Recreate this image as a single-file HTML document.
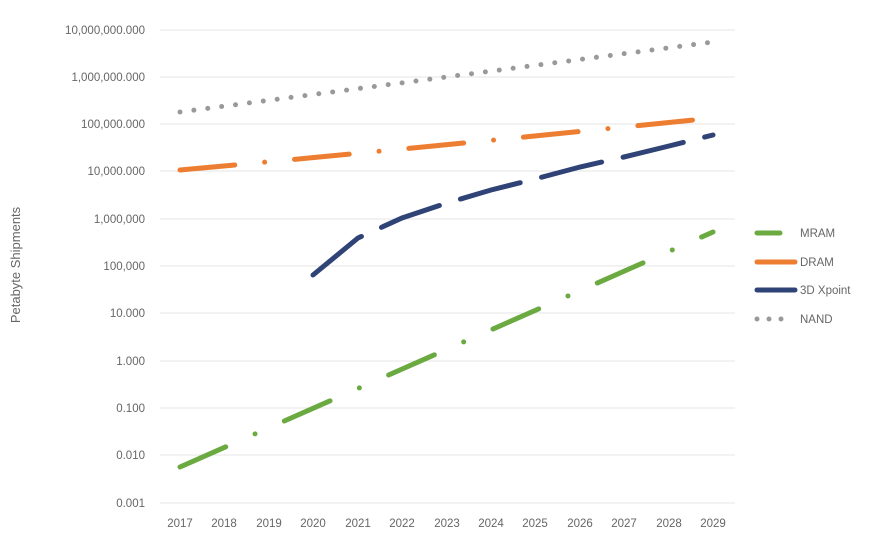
<!DOCTYPE html><html><head><style>body{margin:0;background:#fff}</style></head><body>
<svg width="874" height="537" xmlns="http://www.w3.org/2000/svg" font-family="Liberation Sans, sans-serif">
<rect width="874" height="537" fill="#fff"/>
<g stroke="#e4e4e4" stroke-width="1">
<line x1="160" x2="735" y1="30" y2="30"/><line x1="160" x2="735" y1="77" y2="77"/><line x1="160" x2="735" y1="124" y2="124"/><line x1="160" x2="735" y1="171" y2="171"/><line x1="160" x2="735" y1="219" y2="219"/><line x1="160" x2="735" y1="266" y2="266"/><line x1="160" x2="735" y1="313" y2="313"/><line x1="160" x2="735" y1="361" y2="361"/><line x1="160" x2="735" y1="408" y2="408"/><line x1="160" x2="735" y1="455" y2="455"/><line x1="160" x2="735" y1="503" y2="503"/>
</g>
<g font-size="11.5" fill="#666" text-anchor="end">
<text x="145" y="34">10,000,000.000</text><text x="145" y="81">1,000,000.000</text><text x="145" y="128">100,000.000</text><text x="145" y="175">10,000.000</text><text x="145" y="223">1,000,000</text><text x="145" y="270">100,000</text><text x="145" y="317">10.000</text><text x="145" y="365">1.000</text><text x="145" y="412">0.100</text><text x="145" y="459">0.010</text><text x="145" y="507">0.001</text>
</g>
<g font-size="11.5" fill="#666" text-anchor="middle">
<text x="180" y="527">2017</text><text x="224" y="527">2018</text><text x="269" y="527">2019</text><text x="313" y="527">2020</text><text x="358" y="527">2021</text><text x="402" y="527">2022</text><text x="447" y="527">2023</text><text x="491" y="527">2024</text><text x="535" y="527">2025</text><text x="580" y="527">2026</text><text x="624" y="527">2027</text><text x="669" y="527">2028</text><text x="713" y="527">2029</text>
</g>
<text transform="translate(20,265) rotate(-90)" font-size="13" fill="#666" text-anchor="middle">Petabyte Shipments</text>
<g fill="none" stroke-width="5" stroke-linecap="round">
<line x1="180" y1="112" x2="713" y2="42" stroke="#999" stroke-dasharray="0 14"/>
<path d="M180 170 Q400 150 713 118" stroke="#ed7d31" stroke-dasharray="55 30 0 30"/>
<path d="M313 275 L358 238 L402 218 L447 203 L491 190 L535 179 L580 167 L624 157 L669 146 L713 135" stroke="#2f4376" stroke-dasharray="62 22"/>
<line x1="180" y1="467" x2="713" y2="232" stroke="#6aaa40" stroke-dasharray="50 32 0 32"/>
</g>
<g stroke-width="5" stroke-linecap="round">
<line x1="757" y1="233" x2="780" y2="233" stroke="#6aaa40"/>
<line x1="757" y1="262" x2="795" y2="262" stroke="#ed7d31"/>
<line x1="757" y1="290" x2="795" y2="290" stroke="#2f4376"/>
<line x1="757" y1="319" x2="790" y2="319" stroke="#999" stroke-dasharray="0 12"/>
</g>
<g font-size="11.5" fill="#666">
<text x="800" y="237">MRAM</text><text x="800" y="266">DRAM</text><text x="800" y="294">3D Xpoint</text><text x="800" y="323">NAND</text>
</g>
</svg></body></html>
